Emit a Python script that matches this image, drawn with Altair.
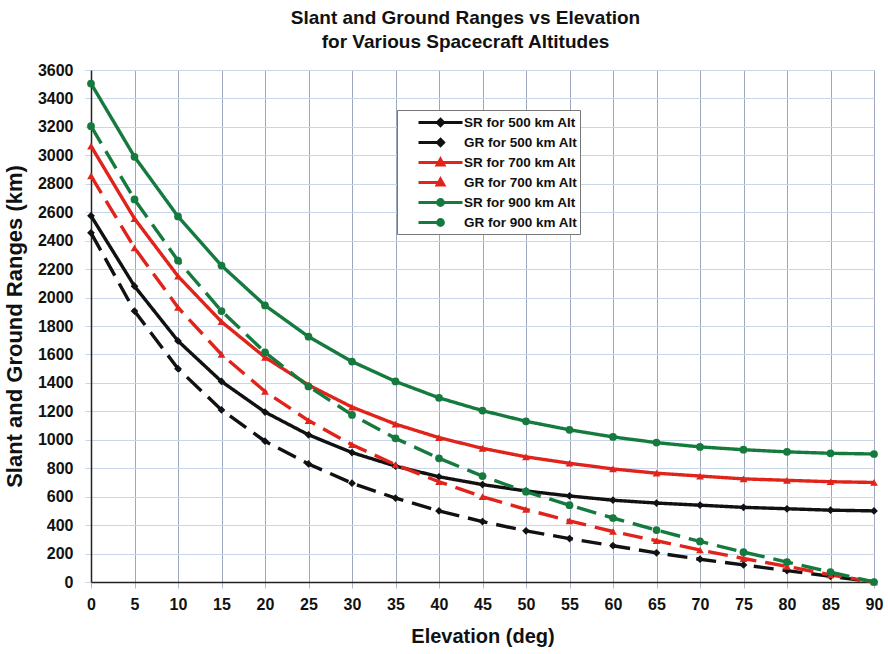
import altair as alt
import pandas as pd

elevation = [0, 5, 10, 15, 20, 25, 30, 35, 40, 45, 50, 55, 60, 65, 70, 75, 80, 85, 90]

sr_500 = [2575, 2080, 1695, 1410, 1195, 1035, 910, 815, 740, 685, 640, 605, 575, 555, 540, 525, 515, 505, 500]
gr_500 = [2455, 1905, 1500, 1210, 990, 830, 695, 590, 500, 425, 360, 305, 255, 205, 160, 120, 80, 40, 0]
sr_700 = [3065, 2555, 2150, 1830, 1580, 1385, 1230, 1110, 1015, 940, 880, 835, 795, 765, 745, 725, 715, 705, 700]
gr_700 = [2855, 2350, 1930, 1600, 1340, 1135, 965, 825, 705, 600, 510, 430, 355, 290, 225, 165, 110, 50, 0]
sr_900 = [3505, 2990, 2570, 2225, 1945, 1725, 1550, 1410, 1295, 1205, 1130, 1070, 1020, 980, 950, 930, 915, 905, 900]
gr_900 = [3205, 2690, 2260, 1905, 1615, 1375, 1175, 1010, 870, 745, 635, 540, 450, 365, 285, 210, 140, 70, 0]

series_names = [
    "SR for 500 km Alt", "GR for 500 km Alt",
    "SR for 700 km Alt", "GR for 700 km Alt",
    "SR for 900 km Alt", "GR for 900 km Alt",
]
series_values = [sr_500, gr_500, sr_700, gr_700, sr_900, gr_900]
series_colors = ["#111111", "#111111", "#e0241c", "#e0241c", "#157a3e", "#157a3e"]
series_dash = [[1, 0], [20, 9], [1, 0], [20, 9], [1, 0], [20, 9]]
series_shapes = ["diamond", "diamond", "triangle-up", "triangle-up", "circle", "circle"]

# legend glyphs: line segment + marker
_dia = "M0,-0.35L0.35,0L0,0.35L-0.35,0Z"
_tri = "M0,-0.38L0.38,0.29L-0.38,0.29Z"
_cir = "M0.33,0A0.33,0.33,0,1,1,-0.33,0A0.33,0.33,0,1,1,0.33,0Z"
legend_paths = [
    "M-2.5,0H2.5" + _dia, "M-2.5,0H-0.1" + _dia,
    "M-2.5,0H2.5" + _tri, "M-2.5,0H-0.1" + _tri,
    "M-2.5,0H2.5" + _cir, "M-2.5,0H-0.1" + _cir,
]

rows = []
for name, vals in zip(series_names, series_values):
    for e, v in zip(elevation, vals):
        rows.append({"series": name, "elev": e, "range": v})
df = pd.DataFrame(rows)

FONT = "Liberation Sans"

x_enc = alt.X(
    "elev:Q",
    scale=alt.Scale(domain=[0, 90], nice=False, zero=False),
    axis=alt.Axis(
        values=elevation, title="Elevation (deg)", format="d", labelFlush=False,
        labelFontSize=16, labelFontWeight="bold", labelColor="#111",
        titleFontSize=20, titleFontWeight="bold", titleColor="#111",
        gridColor="#9ea6bb", gridWidth=1, tickColor="#b0b8c8", tickSize=6,
        domainColor="#222", domainWidth=1.5, labelPadding=8, titlePadding=14,
    ),
)
y_enc = alt.Y(
    "range:Q",
    scale=alt.Scale(domain=[0, 3600], nice=False),
    axis=alt.Axis(
        values=list(range(0, 3601, 200)), title="Slant and Ground Ranges (km)", format="d",
        labelFlush=False,
        labelFontSize=16, labelFontWeight="bold", labelColor="#111",
        titleFontSize=22, titleFontWeight="bold", titleColor="#111",
        gridColor="#c9d5e8", gridWidth=1, tickColor="#c9d5e8", tickSize=6,
        domainColor="#222", domainWidth=1.5, labelPadding=12, titlePadding=11,
    ),
)

base = alt.Chart(df)

lines = base.mark_line(strokeWidth=3.4).encode(
    x=x_enc, y=y_enc,
    color=alt.Color("series:N", scale=alt.Scale(domain=series_names, range=series_colors), legend=None),
    strokeDash=alt.StrokeDash("series:N", scale=alt.Scale(domain=series_names, range=series_dash), legend=None),
    detail="series:N",
)

points = base.mark_point(filled=True, size=60, opacity=1).encode(
    x=x_enc, y=y_enc,
    color=alt.Color("series:N", scale=alt.Scale(domain=series_names, range=series_colors), legend=None),
    shape=alt.Shape("series:N", scale=alt.Scale(domain=series_names, range=series_shapes), legend=None),
)

legend_props = dict(
    title="\u2003\u2003\u2003", titleOrient="right", titleFontSize=7, titlePadding=0,
    orient="none", legendX=306, legendY=40,
    labelFontSize=13.5, labelFontWeight="bold", labelColor="#111", labelFont=FONT,
    symbolSize=310, symbolStrokeWidth=3, symbolOffset=31, labelOffset=13,
    rowPadding=0, padding=2, strokeColor="#777777", fillColor="white",
)

legend_layer = base.transform_filter("false").mark_point(filled=True, opacity=1).encode(
    x=x_enc, y=y_enc,
    fill=alt.Fill("series:N", scale=alt.Scale(domain=series_names, range=series_colors), legend=alt.Legend(**legend_props)),
    stroke=alt.Stroke("series:N", scale=alt.Scale(domain=series_names, range=series_colors), legend=alt.Legend(**legend_props)),
    shape=alt.Shape("series:N", scale=alt.Scale(domain=series_names, range=legend_paths), legend=alt.Legend(**legend_props)),
)

chart = alt.layer(lines, points, legend_layer).resolve_scale(
    color="independent", shape="independent", fill="independent", stroke="independent"
).properties(
    width=783, height=512,
    autosize=alt.AutoSizeParams(type="none"),
    padding={"left": 91, "top": 70, "right": 14, "bottom": 72},
    title=alt.TitleParams(
        ["Slant and Ground Ranges vs Elevation", "for Various Spacecraft Altitudes"],
        fontSize=19, fontWeight="bold", font=FONT, color="#111", lineHeight=24,
        anchor="middle", dx=-17, offset=10,
    ),
).configure(font=FONT, background="white").configure_view(stroke=None)

chart.save("out.html", embed_options={"renderer": "svg", "actions": False})
